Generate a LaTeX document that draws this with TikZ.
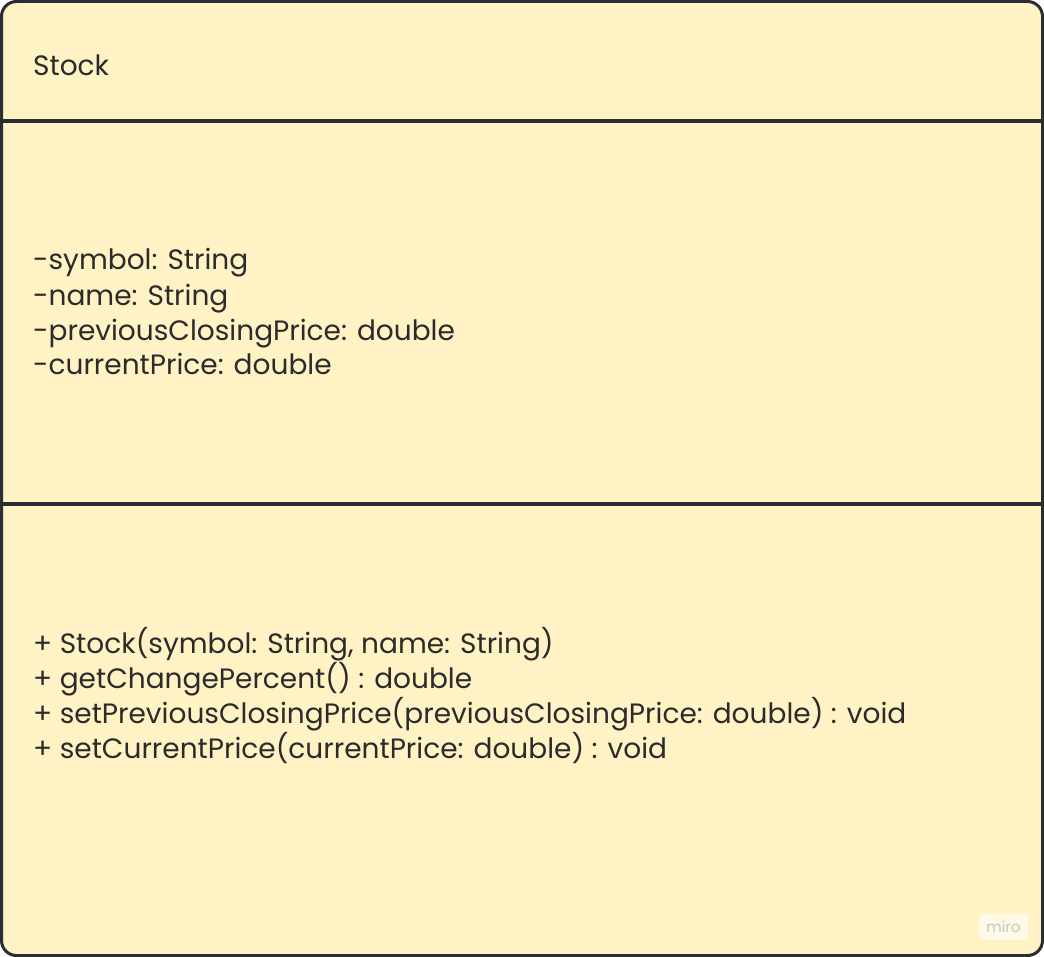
\documentclass[tikz,border=0pt]{standalone}
\usepackage{fontspec}
\setmainfont{Poppins}
\begin{document}
\begin{tikzpicture}[x=1pt,y=-1pt,
  frame/.style={draw=linec,line width=3pt,fill=boxfill,rounded corners=15pt},
  divider/.style={draw=linec,line width=4pt},
  txt/.style={anchor=base west,inner sep=0pt,text=textc,font=\fontsize{28}{35}\selectfont,align=left},
  wmstyle/.style={text=gray!45,font=\fontsize{15}{15}\selectfont,fill=white!60!boxfill,minimum width=49pt,minimum height=26pt,inner sep=0pt,rounded corners=3pt}]
\definecolor{linec}{HTML}{2B2D33}
\definecolor{boxfill}{HTML}{FFF2C4}
\definecolor{textc}{HTML}{2B2B2B}
\useasboundingbox (0,0) rectangle (1044,957);
\path[frame] (1.5,1.5) rectangle (1042.5,955.5);
\coordinate (d1l) at (1.5,121); \coordinate (d1r) at (1042.5,121);
\coordinate (d2l) at (1.5,504); \coordinate (d2r) at (1042.5,504);
\draw[divider] (d1l) -- (d1r);
\draw[divider] (d2l) -- (d2r);
% multi-line nodes are placed by the baseline of their last line
\node[txt] (title) at (33,76) {Stock};
\node[txt] (attrs) at (33,375) {-symbol: String\\-name: String\\-previousClosingPrice: double\\-currentPrice: double};
\node[txt] (ops) at (33,758) {+ Stock(symbol: String, name: String)\\+ getChangePercent() : double\\+ setPreviousClosingPrice(previousClosingPrice: double) : void\\+ setCurrentPrice(currentPrice: double) : void};
\node[wmstyle] (wm) at (1003.5,927) {miro};
\end{tikzpicture}
\end{document}
